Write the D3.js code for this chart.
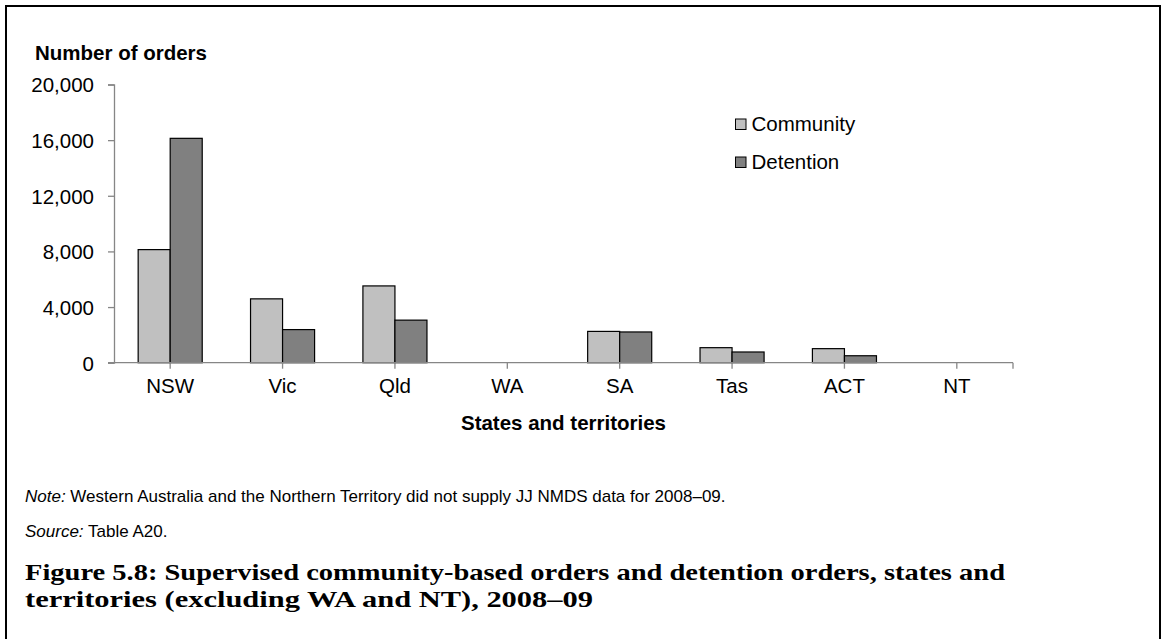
<!DOCTYPE html>
<html>
<head>
<meta charset="utf-8">
<script src="https://cdn.jsdelivr.net/npm/d3@7"></script>
<style>
  html, body { margin: 0; padding: 0; background: #fff; }
  svg { display: block; }
</style>
</head>
<body>
<svg id="chart" width="1162" height="639"></svg>
<script>
// Orders by state/territory, 2008–09 (WA and NT not supplied)
const states = ["NSW", "Vic", "Qld", "WA", "SA", "Tas", "ACT", "NT"];
const community = [8130, 4590, 5520, null, 2250, 1080, 1010, null];
const detention = [16130, 2380, 3060, null, 2210, 770, 500, null];
const seriesNames = ["Community", "Detention"];
const seriesColors = ["#c0c0c0", "#808080"];
const yTicks = [0, 4000, 8000, 12000, 16000, 20000];

const svg = d3.select("#chart");
const font = "'Liberation Sans', Arial, sans-serif";

// Outer frame
svg.append("rect")
  .attr("x", 6).attr("y", 6)
  .attr("width", 1154).attr("height", 700)
  .attr("fill", "none").attr("stroke", "#000").attr("stroke-width", 2);

const plot = { left: 114, right: 1013, top: 84.5, bottom: 362.7 };

const x = d3.scaleBand().domain(states).range([plot.left, plot.right]).padding(0);
const groupW = x.bandwidth() * 0.57;
const xs = d3.scaleBand().domain(seriesNames).range([-groupW / 2, groupW / 2]).padding(0);
const y = d3.scaleLinear().domain([0, 20000]).range([plot.bottom, plot.top]);

const axisColor = "#868686";

// Y axis
const yAxis = svg.append("g")
  .attr("transform", `translate(${plot.left},0)`)
  .call(d3.axisLeft(y).tickValues(yTicks).tickSize(6).tickPadding(14)
    .tickFormat(d3.format(",")));
yAxis.select(".domain").attr("stroke", axisColor).attr("stroke-width", 1.3);
yAxis.selectAll(".tick line").attr("stroke", axisColor).attr("stroke-width", 1.3);
yAxis.selectAll(".tick text")
  .attr("font-family", font).attr("font-size", 20.5).attr("fill", "#000")
  .attr("dy", "0.36em");

// Bars
const rows = states.map((s, i) => ({ state: s, values: [community[i], detention[i]] }));
const groups = svg.append("g").selectAll("g")
  .data(rows).join("g")
  .attr("transform", d => `translate(${x(d.state) + x.bandwidth() / 2},0)`);
groups.selectAll("rect")
  .data(d => d.values.map((v, k) => ({ name: seriesNames[k], value: v, k })).filter(e => e.value != null))
  .join("rect")
  .attr("x", e => xs(e.name))
  .attr("width", xs.bandwidth())
  .attr("y", e => y(e.value))
  .attr("height", e => y(0) - y(e.value))
  .attr("fill", e => seriesColors[e.k])
  .attr("stroke", "#000").attr("stroke-width", 1.2);

// X axis
const xAxis = svg.append("g")
  .attr("transform", `translate(0,${plot.bottom})`)
  .call(d3.axisBottom(x).tickSizeInner(6).tickSizeOuter(0).tickPadding(10));
xAxis.select(".domain")
  .attr("d", `M${plot.left - 6},0H${x.range()[1]}`)
  .attr("stroke", axisColor).attr("stroke-width", 1.3);
xAxis.selectAll(".tick line").attr("stroke", axisColor).attr("stroke-width", 1.3);
xAxis.append("line")
  .attr("x1", x.range()[1]).attr("x2", x.range()[1])
  .attr("y1", 0).attr("y2", 6)
  .attr("stroke", axisColor).attr("stroke-width", 1.3);
xAxis.selectAll(".tick text")
  .attr("font-family", font).attr("font-size", 20.5).attr("fill", "#000");

// Axis titles
svg.append("text")
  .attr("x", 35).attr("y", 60)
  .attr("font-family", font).attr("font-size", 20.5).attr("font-weight", "bold")
  .text("Number of orders");
svg.append("text")
  .attr("x", (plot.left + plot.right) / 2).attr("y", 430)
  .attr("text-anchor", "middle")
  .attr("font-family", font).attr("font-size", 20.5).attr("font-weight", "bold")
  .text("States and territories");

// Legend
const legend = svg.append("g").attr("transform", "translate(735,0)");
seriesNames.forEach((name, k) => {
  const base = 131 + k * 38;
  legend.append("rect")
    .attr("x", 0.5).attr("y", base - 12)
    .attr("width", 10.5).attr("height", 10.5)
    .attr("fill", seriesColors[k]).attr("stroke", "#000").attr("stroke-width", 1);
  legend.append("text")
    .attr("x", 16.5).attr("y", base)
    .attr("font-family", font).attr("font-size", 20.5)
    .text(name);
});

// Note and source
const note = svg.append("text").attr("x", 25).attr("y", 502)
  .attr("font-family", font).attr("font-size", 17);
note.append("tspan").attr("font-style", "italic").text("Note:");
note.append("tspan").text(" Western Australia and the Northern Territory did not supply JJ NMDS data for 2008–09.");

const src = svg.append("text").attr("x", 25).attr("y", 537)
  .attr("font-family", font).attr("font-size", 17);
src.append("tspan").attr("font-style", "italic").text("Source:");
src.append("tspan").text(" Table A20.");

// Figure caption (wide book-style serif, set to its line widths)
const captionLines = [
  { text: "Figure 5.8: Supervised community-based orders and detention orders, states and", width: 980 },
  { text: "territories (excluding WA and NT), 2008–09", width: 568 }
];
svg.selectAll("text.caption")
  .data(captionLines).join("text")
  .attr("class", "caption")
  .attr("x", 25).attr("y", (d, i) => 580 + i * 27)
  .attr("font-family", "'Liberation Serif', 'Times New Roman', serif")
  .attr("font-size", 24).attr("font-weight", "bold")
  .attr("textLength", d => d.width)
  .attr("lengthAdjust", "spacingAndGlyphs")
  .text(d => d.text);
</script>
</body>
</html>
